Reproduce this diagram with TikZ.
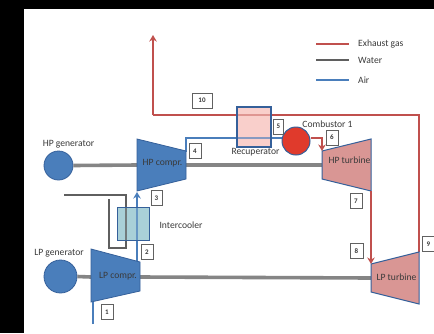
\documentclass[tikz,border=0pt]{standalone}
\usepackage{fontspec}
\setmainfont{Carlito}
\usetikzlibrary{arrows.meta,positioning}
\definecolor{plantInk}{HTML}{3A3A3A}
\definecolor{plantBlue}{HTML}{4A7EBB}
\definecolor{plantEdge}{HTML}{35609A}
\definecolor{plantRed}{HTML}{C0504D}
\definecolor{plantRose}{HTML}{D99694}
\definecolor{plantGray}{HTML}{858585}
\definecolor{plantWater}{HTML}{5F5F5F}
\definecolor{plantFlame}{HTML}{E03A2C}
\definecolor{plantPink}{HTML}{F9CFCB}
\definecolor{plantTeal}{HTML}{A9D0D8}
\tikzset{
  every picture/.style={font=\fontsize{9.6}{10}\selectfont, text=plantInk},
  plant exhaust/.style={draw=plantRed, line width=2.2pt},
  plant water/.style={draw=plantWater, line width=1.7pt},
  plant air/.style={draw=plantBlue, line width=1.6pt},
  plant shaft/.style={draw=plantGray, line width=3.6pt},
  plant tip/.style={-{Stealth[length=6.5pt,width=7.5pt]}},
  plant compr/.style={draw=plantEdge, fill=plantBlue, line width=.8pt},
  plant turb/.style={draw=plantEdge, fill=plantRose, line width=1pt},
  plant gen/.style={circle, draw=plantEdge, fill=plantBlue, line width=.8pt, inner sep=0pt},
  plant tag/.style={draw=plantInk!80, fill=white, line width=.8pt, inner sep=0pt,
    minimum height=15pt, font=\fontsize{7}{7}\selectfont\bfseries}
}
\begin{document}
\begin{tikzpicture}[x=1pt,y=-1pt]
  \useasboundingbox (0,0) rectangle (434,333);
  \fill[black] (0,0) rectangle (434,333);
  \fill[white] (24,9) rectangle (434,333);
  % machine corners
  \coordinate (hpcA) at (137,139); \coordinate (hpcB) at (186,151);
  \coordinate (hpcC) at (186,179); \coordinate (hpcD) at (137,191);
  \coordinate (hptA) at (322,151); \coordinate (hptB) at (371,139);
  \coordinate (hptC) at (371,191); \coordinate (hptD) at (322,179);
  \coordinate (lpcA) at (91,249);  \coordinate (lpcB) at (140,262);
  \coordinate (lpcC) at (140,291); \coordinate (lpcD) at (91,302);
  \coordinate (lptA) at (371,264); \coordinate (lptB) at (419,252);
  \coordinate (lptC) at (419,304); \coordinate (lptD) at (371,292);
  % generators
  \node[plant gen, minimum size=29pt] (hpgen) at (58.5,165.5) {};
  \node[plant gen, minimum size=33pt] (lpgen) at (60.5,276.5) {};
  % shafts
  \draw[plant shaft] (hpgen.east) -- (137,165);
  \draw[plant shaft] (186,165) -- (322,165);
  \draw[plant shaft] (lpgen.east) -- (91,277);
  \draw[plant shaft] (140,277) -- (371,278);
  % exhaust line
  \coordinate (stack) at (153,35);
  \coordinate (exhA) at (153,115);
  \coordinate (exhB) at (419,115);
  \draw[plant exhaust] (lptB) -- (exhB) -- (exhA);
  \draw[plant exhaust, plant tip] (exhA) -- (stack);
  % air lines
  \coordinate (airin) at (93,324);
  \coordinate (airout) at (93,302);
  \coordinate (airA) at (186,138);
  \coordinate (airB) at (283,138);
  \draw[plant air] (airin) -- (airout);
  \draw[plant air] (186,152) -- (airA) -- (airB);
  \draw[plant air, plant tip] (137,262) -- (137,192);
  % water loop
  \coordinate (wtrA) at (64,195); \coordinate (wtrB) at (126,195);
  \coordinate (wtrC) at (126,248); \coordinate (wtrD) at (109,248);
  \coordinate (wtrE) at (109,199);
  \draw[plant water] (wtrA) -- (wtrB) -- (wtrC) -- (wtrD) -- (wtrE);
  % heat exchangers
  \node[fill=plantPink, inner sep=0pt, minimum width=33pt, minimum height=39pt] (recup) at (254,127) {};
  \draw[plantRed!45!plantPink, line width=2pt] (recup.west |- exhA) -- (recup.east |- exhA);
  \draw[plantBlue!65!plantPink, line width=1.6pt] (recup.west |- airA) -- (recup.east |- airA);
  \draw[plantEdge, line width=1.9pt] (recup.north west) rectangle (recup.south east);
  \node[fill=plantTeal, inner sep=0pt, minimum width=32pt, minimum height=33pt] (icool) at (133.5,224) {};
  \draw[plantWater!75!plantTeal, line width=1.7pt] (icool.north -| wtrB) -- (icool.south -| wtrB);
  \draw[plantBlue!70!plantTeal, line width=1.6pt] (icool.north -| 137,0) -- (icool.south -| 137,0);
  \draw[plantEdge, line width=1.3pt] (icool.north west) rectangle (icool.south east);
  % machines
  \draw[plant compr] (hpcA) -- (hpcB) -- (hpcC) -- (hpcD) -- cycle;
  \draw[plant compr] (lpcA) -- (lpcB) -- (lpcC) -- (lpcD) -- cycle;
  \draw[plant turb] (hptA) -- (hptB) -- (hptC) -- (hptD) -- cycle;
  \draw[plant turb] (lptA) -- (lptB) -- (lptC) -- (lptD) -- cycle;
  \node (hpclabel) at (162.5,163) {HP compr.};
  \node (lpclabel) at (118,276.5) {LP compr.};
  \node (hptlabel) at (349.5,160) {HP turbine};
  \node (lptlabel) at (396.5,277) {LP turbine};
  % hot gas
  \node[circle, draw=plantEdge, fill=plantFlame, line width=1pt,
    minimum size=28pt, inner sep=0pt] (burner) at (296,141) {};
  \coordinate (hotA) at (322,138);
  \draw[plant exhaust, plant tip] (burner.east |- hotA) -- (hotA) -- (hptA);
  \draw[plant exhaust, plant tip] (hptC) -- (lptA);
  % names
  \node (hpname) at (68.5,144.5) {HP generator};
  \node (lpname) at (59,253) {LP generator};
  \node (burnername) at (327.5,124.5) {Combustor 1};
  \node (recupname) at (255.5,152.5) {Recuperator};
  \node (icoolname) at (181,225) {Intercooler};
  % stream numbers
  \foreach \n/\x/\y/\w in {1/107/312/12,2/147/252/12,3/156.5/198/11,4/195/151/12,
    5/278.5/126.5/10,6/332/137.5/12,7/356/201/12,8/356.5/251/13,9/428.5/244/12,10/202/100.5/20}{
    \node[plant tag, minimum width=\w pt] (tag\n) at (\x,\y) {\n};
  }
  % legend
  \coordinate (keyA) at (316,44); \coordinate (keyB) at (349,44);
  \coordinate (keyC) at (316,60); \coordinate (keyD) at (349,60);
  \coordinate (keyE) at (316,80); \coordinate (keyF) at (349,80);
  \draw[plant exhaust] (keyA) -- (keyB);
  \draw[plant water] (keyC) -- (keyD);
  \draw[plant air] (keyE) -- (keyF);
  \node[right=9pt of keyB, inner sep=0pt] (keyexh) {Exhaust gas};
  \node[right=9pt of keyD, inner sep=0pt] (keywtr) {Water};
  \node[right=9pt of keyF, inner sep=0pt] (keyair) {Air};
\end{tikzpicture}
\end{document}
